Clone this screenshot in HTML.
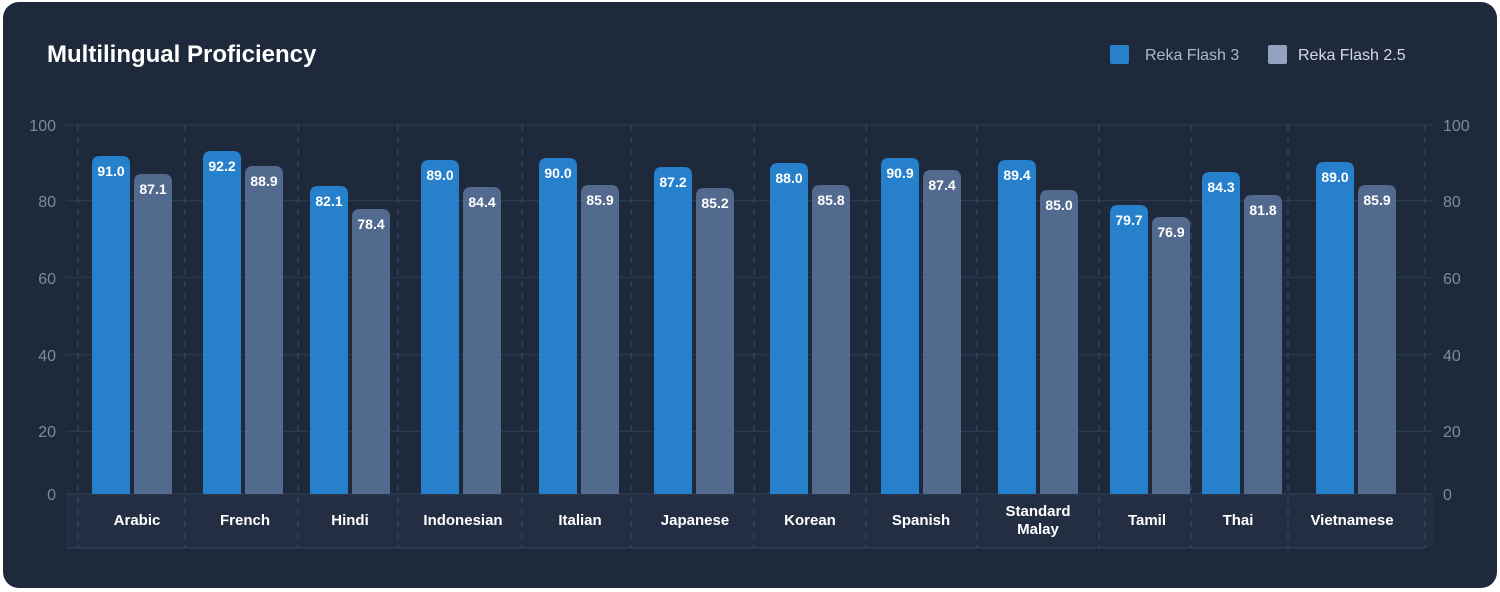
<!DOCTYPE html>
<html><head><meta charset="utf-8"><style>
html,body{margin:0;padding:0;background:#fff;}
svg{display:block;font-family:"Liberation Sans",sans-serif;}
</style></head><body>
<svg width="1500" height="592" viewBox="0 0 1500 592">
<rect x="3" y="2" width="1494" height="586" rx="16" fill="#1e293c"/>
<text x="47" y="62" font-size="24" font-weight="bold" fill="#fff">Multilingual Proficiency</text>
<rect x="1110" y="45" width="19" height="19" rx="2" fill="#2680cc"/>
<text x="1145" y="60" font-size="16" fill="#aeb8c8">Reka Flash 3</text>
<rect x="1268" y="45" width="19" height="19" rx="2" fill="#94a3bd"/>
<text x="1298" y="60" font-size="16" fill="#d5dbe5">Reka Flash 2.5</text>
<rect x="66" y="494" width="1367" height="54" fill="#232e43"/>
<line x1="66" y1="548" x2="1425" y2="548" stroke="#33415a" stroke-width="1"/>
<g stroke="#2f3d56" stroke-width="1">
<line x1="66" y1="125" x2="1433" y2="125"/><line x1="66" y1="200.6" x2="1433" y2="200.6"/>
<line x1="66" y1="277.2" x2="1433" y2="277.2"/><line x1="66" y1="354.8" x2="1433" y2="354.8"/>
<line x1="66" y1="431.4" x2="1433" y2="431.4"/><line x1="66" y1="494" x2="1433" y2="494"/>
</g>
<g stroke="#3d4d68" stroke-width="1" stroke-dasharray="6,6">
<line x1="78" y1="125" x2="78" y2="548"/><line x1="185" y1="125" x2="185" y2="548"/>
<line x1="298" y1="125" x2="298" y2="548"/><line x1="398" y1="125" x2="398" y2="548"/>
<line x1="522" y1="125" x2="522" y2="548"/><line x1="631" y1="125" x2="631" y2="548"/>
<line x1="754" y1="125" x2="754" y2="548"/><line x1="866" y1="125" x2="866" y2="548"/>
<line x1="977" y1="125" x2="977" y2="548"/><line x1="1099" y1="125" x2="1099" y2="548"/>
<line x1="1191" y1="125" x2="1191" y2="548"/><line x1="1288" y1="125" x2="1288" y2="548"/>
<line x1="1425" y1="125" x2="1425" y2="548"/>
</g>
<g font-size="16" fill="#7d8aa0">
<g text-anchor="end"><text x="56" y="131">100</text><text x="56" y="207">80</text><text x="56" y="284">60</text><text x="56" y="361">40</text><text x="56" y="437">20</text><text x="56" y="500">0</text></g>
<g><text x="1443" y="131">100</text><text x="1443" y="207">80</text><text x="1443" y="284">60</text><text x="1443" y="361">40</text><text x="1443" y="437">20</text><text x="1443" y="500">0</text></g>
</g>
<g id="bars" font-size="14" font-weight="bold" fill="#fff" text-anchor="middle"></g>
<g font-size="15" font-weight="bold" fill="#fff" text-anchor="middle">
<text x="137" y="525">Arabic</text><text x="245" y="525">French</text><text x="350" y="525">Hindi</text>
<text x="463" y="525">Indonesian</text><text x="580" y="525">Italian</text><text x="695" y="525">Japanese</text>
<text x="810" y="525">Korean</text><text x="921" y="525">Spanish</text>
<text x="1038" y="516">Standard</text><text x="1038" y="534">Malay</text>
<text x="1147" y="525">Tamil</text><text x="1238" y="525">Thai</text><text x="1352" y="525">Vietnamese</text>
</g>
</svg>
<script>
var d=[[92,"91.0",156,"87.1",174],[203,"92.2",151,"88.9",166],[310,"82.1",186,"78.4",209],[421,"89.0",160,"84.4",187],[539,"90.0",158,"85.9",185],[654,"87.2",167,"85.2",188],[770,"88.0",163,"85.8",185],[881,"90.9",158,"87.4",170],[998,"89.4",160,"85.0",190],[1110,"79.7",205,"76.9",217],[1202,"84.3",172,"81.8",195],[1316,"89.0",162,"85.9",185]];
var g=document.getElementById('bars'),s='';
function bar(x,v,t,c){
s+='<path d="M'+x+' 494V'+(t+8)+'Q'+x+' '+t+' '+(x+8)+' '+t+'H'+(x+30)+'Q'+(x+38)+' '+t+' '+(x+38)+' '+(t+8)+'V494Z" fill="'+c+'"/>';
s+='<text x="'+(x+19)+'" y="'+(t+20)+'">'+v+'</text>';}
d.forEach(function(e){bar(e[0],e[1],e[2],'#2680cc');bar(e[0]+42,e[3],e[4],'#536a8f');});
g.innerHTML=s;
</script>
</body></html>
